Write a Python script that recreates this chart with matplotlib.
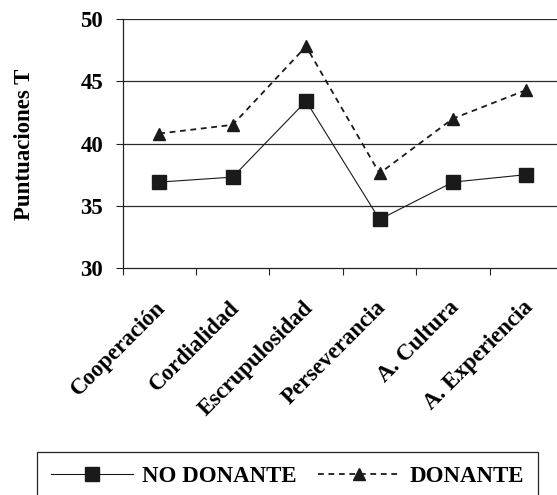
import matplotlib
matplotlib.use("Agg")
import matplotlib.pyplot as plt
import matplotlib.transforms as mtransforms
import numpy as np

categories = ["Cooperación", "Cordialidad", "Escrupulosidad", "Perseverancia",
              "A. Cultura", "A. Experiencia"]
no_donante = [36.9, 37.3, 43.4, 33.9, 36.9, 37.5]
donante = [40.8, 41.5, 47.8, 37.6, 42.0, 44.3]
yticks = [30, 35, 40, 45, 50]

plt.rcParams['font.family'] = ['Liberation Serif', 'DejaVu Serif']
plt.rcParams['font.weight'] = 'bold'
FS = 16.5

W, H = 557, 495
fig = plt.figure(figsize=(W / 100, H / 100), dpi=100)
ax = fig.add_axes([122.5 / W, 1 - 268 / H, 440.6 / W, 249 / H])

x = np.arange(len(categories))
ax.plot(x, no_donante, color='#1a1a1a', lw=0.8, marker='s', ms=9.5,
        markerfacecolor='#1a1a1a', markeredgecolor='#1a1a1a', label='NO DONANTE', zorder=3)
ax.plot(x, donante, color='#1a1a1a', lw=1.3, linestyle=(0, (3.2, 2.6)), marker='^', ms=8.5,
        markerfacecolor='#1a1a1a', markeredgecolor='#1a1a1a', label='DONANTE', zorder=3)

ax.set_xlim(-0.5, len(categories) - 0.5)
ax.set_ylim(30, 50)
ax.set_yticks(yticks)
ax.set_yticklabels([str(v) for v in yticks], fontsize=FS, fontweight='bold')
ax.tick_params(axis='y', direction='out', length=5, width=0.8, pad=9, color='#222')

ax.set_xticks(x)
ax.set_xticks(np.arange(-0.5, len(categories) + 0.5, 1.0), minor=True)
ax.tick_params(axis='x', which='major', length=0, pad=21)
ax.tick_params(axis='x', which='minor', direction='out', length=5, width=0.8, color='#222')
ax.set_xticklabels(categories, fontsize=FS, fontweight='bold', rotation=45,
                   ha='right', va='top', rotation_mode='anchor')
offset = mtransforms.ScaledTranslation(-4 / 100, 0, fig.dpi_scale_trans)
for lbl in ax.get_xticklabels():
    lbl.set_transform(lbl.get_transform() + offset)

for v in yticks[1:]:
    ax.axhline(v, color='#2a2a2a', lw=0.9, zorder=1)

for s in ['top', 'right']:
    ax.spines[s].set_visible(False)
for s in ['left', 'bottom']:
    ax.spines[s].set_color('#222')
    ax.spines[s].set_linewidth(0.9)

fig.text(25 / W, 1 - 144.5 / H, 'Puntuaciones T', rotation=90, ha='center', va='center',
         fontsize=FS, fontweight='bold')

leg = fig.legend(loc='upper left', bbox_to_anchor=(37 / W, 1 - 452 / H), ncol=2,
                 frameon=True, fancybox=False, edgecolor='#222', framealpha=1,
                 prop={'size': FS, 'weight': 'bold'}, handlelength=3.6, handletextpad=0.4,
                 columnspacing=0.9, borderpad=0.6, numpoints=1, borderaxespad=0)
leg.get_frame().set_linewidth(0.9)

fig.savefig('out.png', dpi=100)
